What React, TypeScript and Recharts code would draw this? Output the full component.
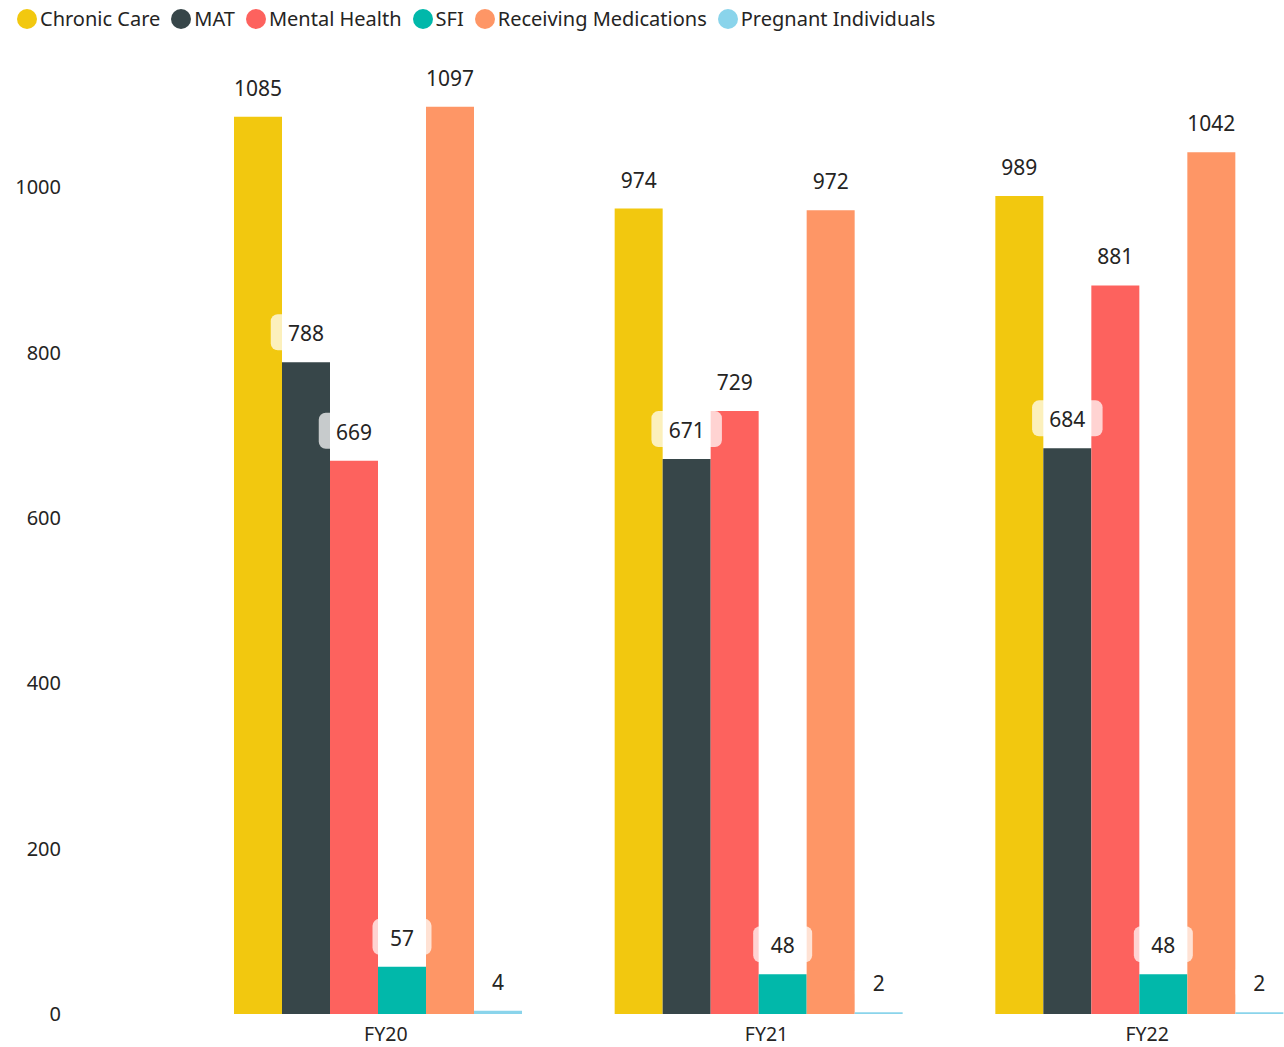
import React from "react"
import { Bar, BarChart, XAxis, YAxis, LabelList } from "recharts"

const categories = ["FY20", "FY21", "FY22"]
const chronicCare = [1085, 974, 989]
const mat = [788, 671, 684]
const mentalHealth = [669, 729, 881]
const sfi = [57, 48, 48]
const receivingMeds = [1097, 972, 1042]
const pregnant = [4, 2, 2]
const yTicks = [0, 200, 400, 600, 800, 1000]

const series = [
  { key: "chronic", name: "Chronic Care", color: "#F2C80F", values: chronicCare },
  { key: "mat", name: "MAT", color: "#374649", values: mat },
  { key: "mental", name: "Mental Health", color: "#FD625E", values: mentalHealth },
  { key: "sfi", name: "SFI", color: "#01B8AA", values: sfi },
  { key: "meds", name: "Receiving Medications", color: "#FE9666", values: receivingMeds },
  { key: "preg", name: "Pregnant Individuals", color: "#8AD4EB", values: pregnant },
]

const data = categories.map((c, i) => {
  const row: Record<string, string | number> = { category: c }
  series.forEach((s) => (row[s.key] = s.values[i]))
  return row
})

const FONT = "'Segoe UI', 'Noto Sans', sans-serif"

// value label with a translucent rounded box behind it
const ValueLabel = (props: any) => {
  const { x, y, width, value } = props
  const cx = x + width / 2
  const cy = y - 29
  const text = String(value)
  const w = text.length * 11.5 + 36
  return (
    <g>
      <rect x={cx - w / 2} y={cy - 19} width={w} height={36} rx={7} fill="#ffffff" fillOpacity={0.72} />
      <text x={cx} y={cy} textAnchor="middle" dominantBaseline="central" fontSize={21} fill="#252423" fontFamily={FONT}>
        {text}
      </text>
    </g>
  )
}

export default function App() {
  return (
    <div style={{ position: "absolute", left: 0, top: 0, width: 1284, height: 1047, overflow: "hidden", background: "#fff" }}>
      <div
        style={{
          position: "absolute",
          top: 5,
          left: 17,
          zIndex: 2,
          display: "flex",
          alignItems: "center",
          fontFamily: FONT,
          fontSize: 20,
          color: "#252423",
          whiteSpace: "nowrap",
        }}
      >
        {series.map((s) => (
          <div key={s.key} style={{ display: "flex", alignItems: "center", marginRight: 11 }}>
            <span style={{ width: 20, height: 20, borderRadius: 10, background: s.color, display: "inline-block", marginRight: 3 }} />
            <span>{s.name}</span>
          </div>
        ))}
      </div>
      <BarChart
        width={1340}
        height={1047}
        data={data}
        margin={{ top: 21.6, right: 9.5, left: 1, bottom: 0 }}
        barGap={0}
        barCategoryGap={45.5}
      >
        <XAxis
          dataKey="category"
          axisLine={false}
          tickLine={false}
          height={33}
          dx={7}
          tickMargin={7}
          tick={{ fontSize: 19.5, fill: "#252423", fontFamily: FONT }}
        />
        <YAxis
          domain={[0, 1200]}
          ticks={yTicks}
          width={187.5}
          axisLine={false}
          tickLine={false}
          tickMargin={121.5}
          tick={{ fontSize: 20, fill: "#252423", fontFamily: FONT }}
        />
        {series.map((s) => (
          <Bar key={s.key} dataKey={s.key} name={s.name} fill={s.color} isAnimationActive={false}>
            <LabelList dataKey={s.key} content={ValueLabel} />
          </Bar>
        ))}
      </BarChart>
    </div>
  )
}
